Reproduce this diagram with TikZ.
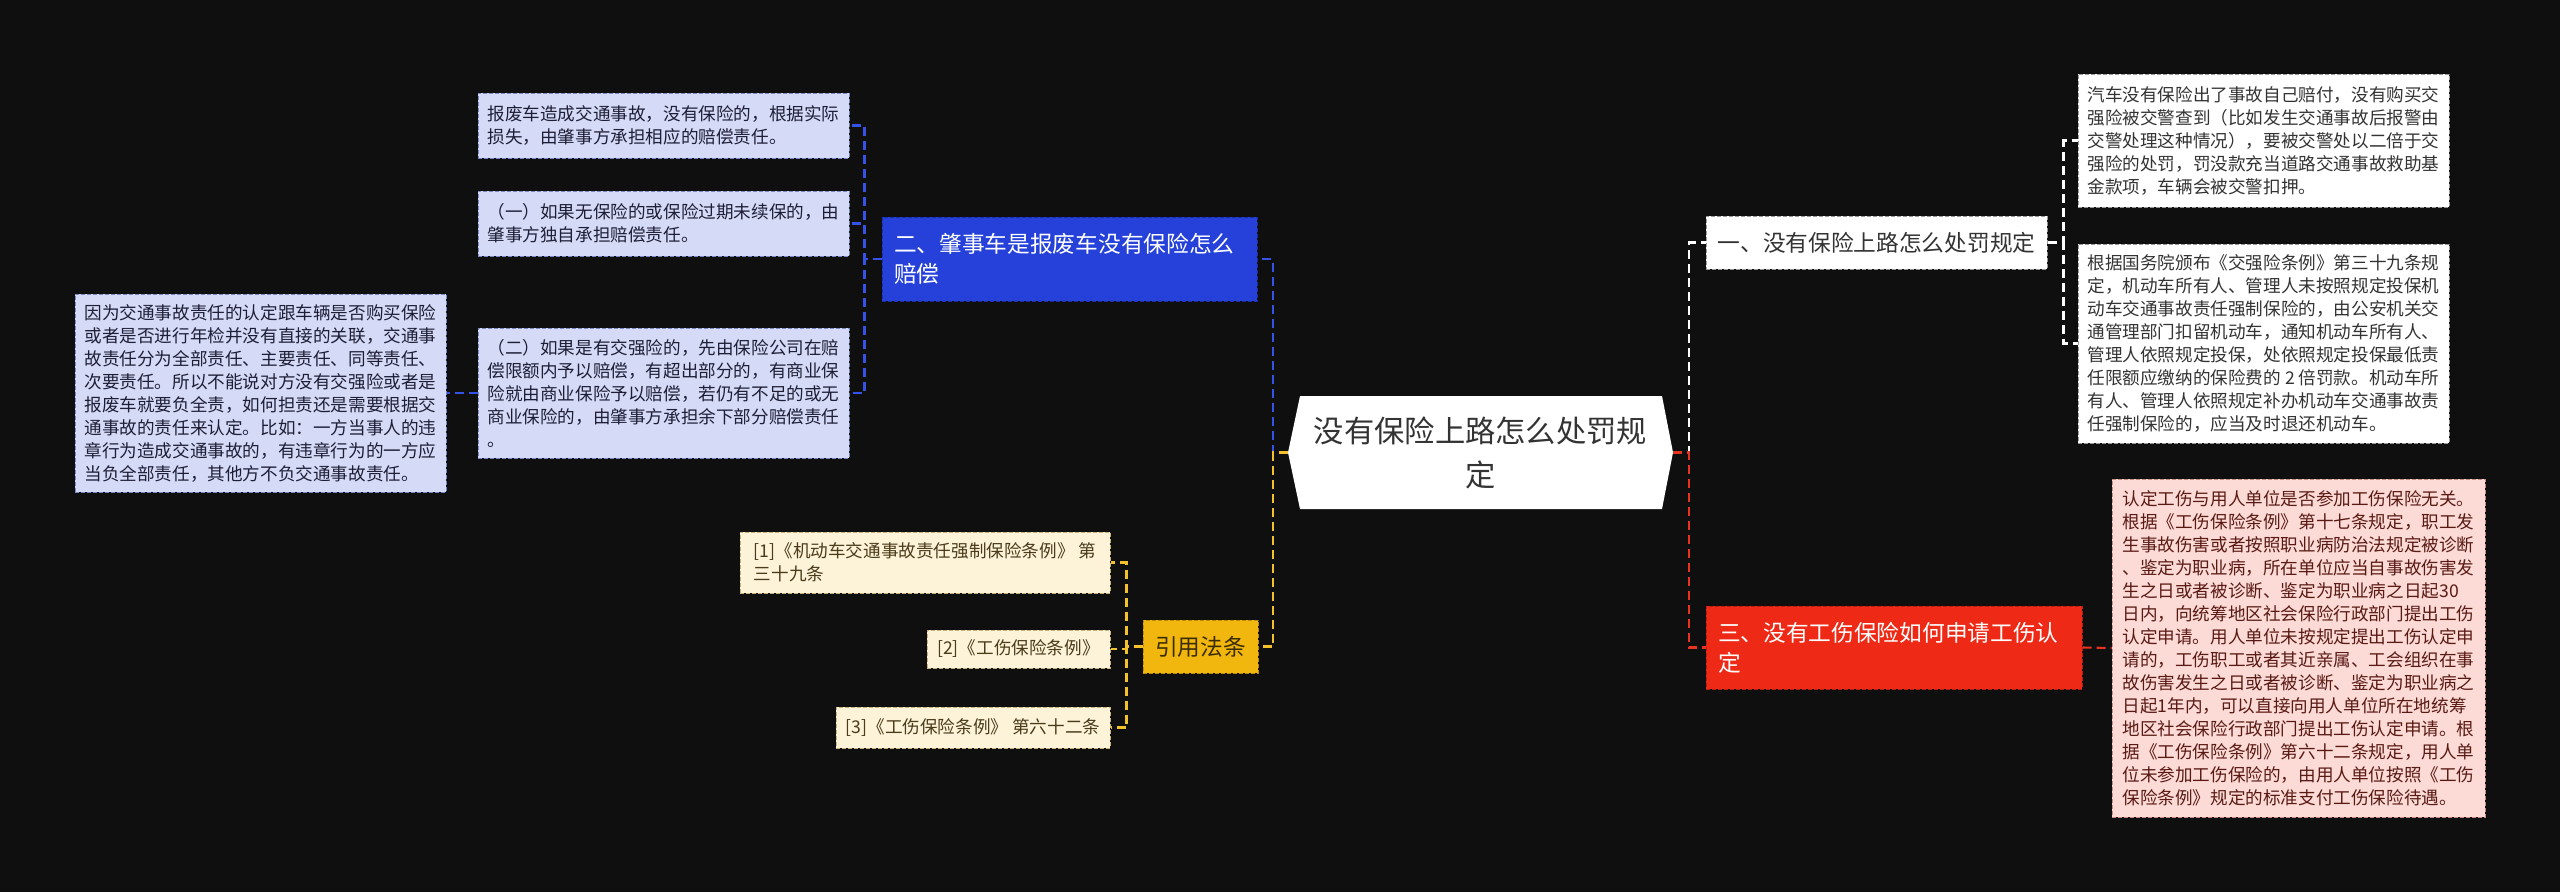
\documentclass[tikz,border=0pt]{standalone}
\usepackage{fontspec}
\setmainfont{Noto Sans CJK SC}
\usetikzlibrary{calc}
\definecolor{bgc}{HTML}{0F0F10}
\definecolor{bluebox}{HTML}{2541D9}
\definecolor{blueborder}{HTML}{1A2FA6}
\definecolor{blueline}{HTML}{3553E6}
\definecolor{lav}{HTML}{D5DBF7}
\definecolor{lavborder}{HTML}{7A88C8}
\definecolor{lavtext}{HTML}{1E1E36}
\definecolor{whiteborder}{HTML}{9A9A9A}
\definecolor{darktext}{HTML}{333333}
\definecolor{redbox}{HTML}{EE2A17}
\definecolor{redborder}{HTML}{B81E0E}
\definecolor{redline}{HTML}{E8341E}
\definecolor{pink}{HTML}{FCDAD6}
\definecolor{pinkborder}{HTML}{C78A84}
\definecolor{pinktext}{HTML}{5A1A14}
\definecolor{yelbox}{HTML}{F1B70E}
\definecolor{yelborder}{HTML}{B88A05}
\definecolor{yelline}{HTML}{F2C12B}
\definecolor{cream}{HTML}{FDF3D8}
\definecolor{creamborder}{HTML}{C8B27A}
\definecolor{creamtext}{HTML}{4A3B1A}
\definecolor{yeltext}{HTML}{3A2C05}
\begin{document}
\begin{tikzpicture}[x=1pt,y=-1pt,
  box/.style={inner sep=0pt, align=left, line width=1pt, dash pattern=on 4pt off 2pt},
  det/.style={box, font=\fontsize{17.6pt}{23pt}\selectfont},
  head/.style={box, font=\fontsize{22.7pt}{30pt}\selectfont},
  conn/.style={line width=2.1pt, dash pattern=on 9pt off 5pt},
  lavbox/.style={det, fill=lav, draw=lavborder, text=lavtext},
  wbox/.style={det, fill=white, draw=whiteborder, text=darktext},
  pbox/.style={det, fill=pink, draw=pinkborder, text=pinktext},
  cbox/.style={det, fill=cream, draw=creamborder, text=creamtext}]
\fill[bgc] (0,0) rectangle (2560,892);
\useasboundingbox (0,0) rectangle (2560,892);

% central node
\node[inner sep=0pt, minimum width=385pt, minimum height=113pt, align=center,
  text=darktext, font=\fontsize{30.3pt}{44pt}\selectfont,
  path picture={\fill[white]
    ($(path picture bounding box.north west)+(12,0)$) --
    ($(path picture bounding box.west)$) --
    ($(path picture bounding box.south west)+(12,0)$) --
    ($(path picture bounding box.south east)+(-11,0)$) --
    ($(path picture bounding box.east)$) --
    ($(path picture bounding box.north east)+(-11,0)$) -- cycle;}]
  (c) at (1480.5,452.5) {没有保险上路怎么处罚规\\定};

% right branch
\node[head, fill=white, draw=whiteborder, text=darktext, minimum width=341pt, minimum height=53pt]
  (b1) at (1876.5,242.5) {一、没有保险上路怎么处罚规定};
\node[head, fill=redbox, draw=redborder, text=white, minimum width=376pt, minimum height=83pt, text width=352pt]
  (b3) at (1894,647.5) {三、没有工伤保险如何申请工伤认\\定};
\node[wbox, minimum width=371pt, minimum height=133pt] (A) at (2263.5,140.5)
 {汽车没有保险出了事故自己赔付，没有购买交\\强险被交警查到（比如发生交通事故后报警由\\交警处理这种情况），要被交警处以二倍于交\\强险的处罚，罚没款充当道路交通事故救助基\\金款项，车辆会被交警扣押。};
\node[wbox, minimum width=371pt, minimum height=199pt] (B) at (2263.5,343.5)
 {根据国务院颁布《交强险条例》第三十九条规\\定，机动车所有人、管理人未按照规定投保机\\动车交通事故责任强制保险的，由公安机关交\\通管理部门扣留机动车，通知机动车所有人、\\管理人依照规定投保，处依照规定投保最低责\\任限额应缴纳的保险费的 2 倍罚款。机动车所\\有人、管理人依照规定补办机动车交通事故责\\任强制保险的，应当及时退还机动车。};
\node[pbox, minimum width=373pt, minimum height=338pt] (C) at (2298.5,648)
 {认定工伤与用人单位是否参加工伤保险无关。\\根据《工伤保险条例》第十七条规定，职工发\\生事故伤害或者按照职业病防治法规定被诊断\\、鉴定为职业病，所在单位应当自事故伤害发\\生之日或者被诊断、鉴定为职业病之日起30\\日内，向统筹地区社会保险行政部门提出工伤\\认定申请。用人单位未按规定提出工伤认定申\\请的，工伤职工或者其近亲属、工会组织在事\\故伤害发生之日或者被诊断、鉴定为职业病之\\日起1年内，可以直接向用人单位所在地统筹\\地区社会保险行政部门提出工伤认定申请。根\\据《工伤保险条例》第六十二条规定，用人单\\位未参加工伤保险的，由用人单位按照《工伤\\保险条例》规定的标准支付工伤保险待遇。};

% left branch
\node[head, fill=bluebox, draw=blueborder, text=white, minimum width=375pt, minimum height=84pt, text width=351pt]
  (b2) at (1069.5,259) {二、肇事车是报废车没有保险怎么\\赔偿};
\node[lavbox, minimum width=371pt, minimum height=65pt] (L1) at (663.5,125.5)
 {报废车造成交通事故，没有保险的，根据实际\\损失，由肇事方承担相应的赔偿责任。};
\node[lavbox, minimum width=371pt, minimum height=65pt] (L2) at (663.5,223.5)
 {（一）如果无保险的或保险过期未续保的，由\\肇事方独自承担赔偿责任。};
\node[lavbox, minimum width=371pt, minimum height=130pt] (L3) at (663.5,393)
 {（二）如果是有交强险的，先由保险公司在赔\\偿限额内予以赔偿，有超出部分的，有商业保\\险就由商业保险予以赔偿，若仍有不足的或无\\商业保险的，由肇事方承担余下部分赔偿责任\\。};
\node[lavbox, minimum width=371pt, minimum height=198pt] (L4) at (260.5,393)
 {因为交通事故责任的认定跟车辆是否购买保险\\或者是否进行年检并没有直接的关联，交通事\\故责任分为全部责任、主要责任、同等责任、\\次要责任。所以不能说对方没有交强险或者是\\报废车就要负全责，如何担责还是需要根据交\\通事故的责任来认定。比如：一方当事人的违\\章行为造成交通事故的，有违章行为的一方应\\当负全部责任，其他方不负交通事故责任。};

% references
\node[head, fill=yelbox, draw=yelborder, text=yeltext, minimum width=115pt, minimum height=53pt]
  (yin) at (1200.5,646.5) {引用法条};
\node[cbox, minimum width=370pt, minimum height=61pt] (R1) at (925,562.5)
 {[1]《机动车交通事故责任强制保险条例》 第\\三十九条};
\node[cbox, minimum width=183pt, minimum height=38pt] (R2) at (1018.5,649)
 {[2]《工伤保险条例》};
\node[cbox, minimum width=274pt, minimum height=41pt] (R3) at (973,727.5)
 {[3]《工伤保险条例》 第六十二条};

% connectors
\draw[conn, blueline] (c.west) -- ++(-15,0) |- (b2.east);
\draw[conn, yelline] (c.west) -- ++(-15,0) |- (yin.east);
\draw[conn, white] (c.east) -- ++(16,0) |- (b1.west);
\draw[conn, redline] (c.east) -- ++(16,0) |- (b3.west);

\draw[conn, white] (b1.east) -- ++(16,0) |- (A.west);
\draw[conn, white] (b1.east) -- ++(16,0) |- (B.west);
\draw[conn, redline] (b3.east) -- (C.west);

\draw[conn, blueline] (b2.west) -- ++(-17,0) |- (L1.east);
\draw[conn, blueline] (b2.west) -- ++(-17,0) |- (L2.east);
\draw[conn, blueline] (b2.west) -- ++(-17,0) |- (L3.east);
\draw[conn, blueline] (L3.west) -- (L4.east);

\draw[conn, yelline] (yin.west) -- ++(-16,0) |- (R1.east);
\draw[conn, yelline] (yin.west) -- ++(-16,0) |- (R2.east);
\draw[conn, yelline] (yin.west) -- ++(-16,0) |- (R3.east);
\end{tikzpicture}
\end{document}
